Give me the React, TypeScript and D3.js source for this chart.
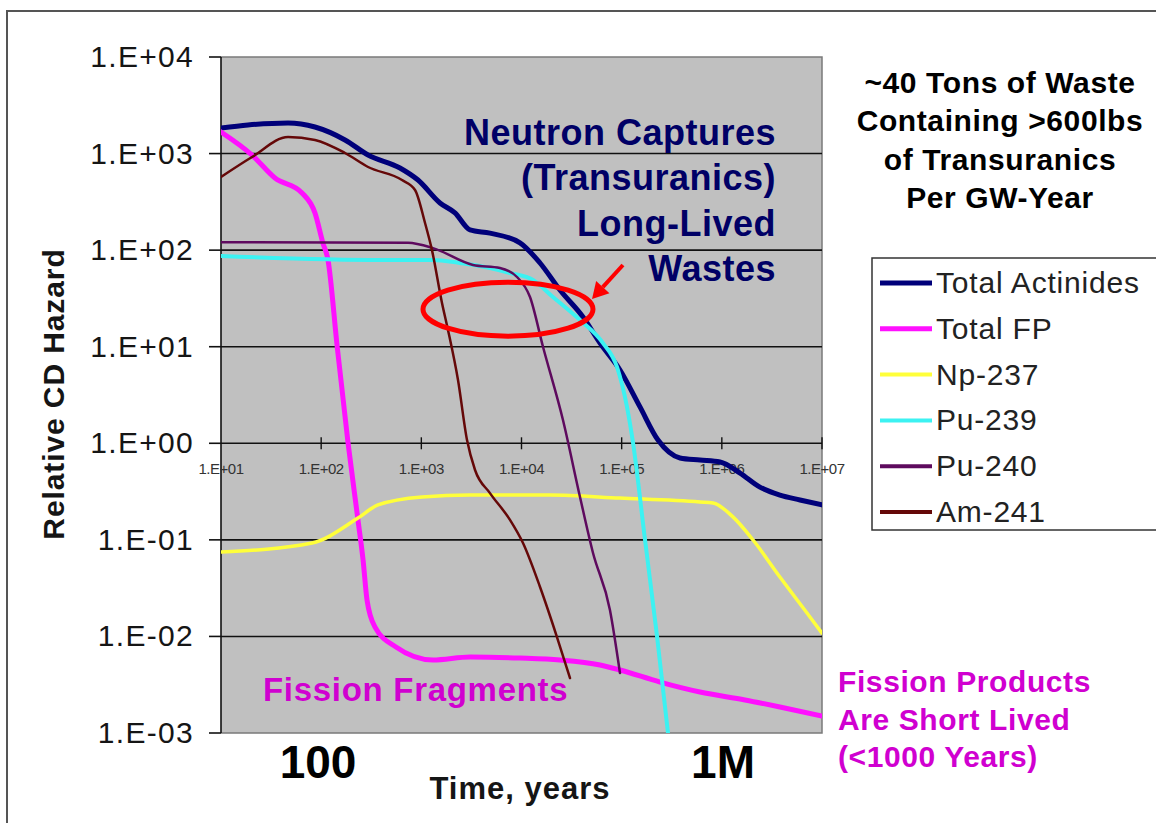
import React, { useEffect, useRef } from 'react';
import * as d3 from 'd3';

// [years, relative hazard]
const totalActinides = [
  [10, 1841], [18.6, 1977], [46.7, 2075], [86.7, 1884], [173, 1384], [294, 966], [612, 709],
  [927, 532], [1536, 308], [2168, 243], [3062, 162], [4842, 150], [9661, 119], [15310, 73.6],
  [24210, 38.6], [41110, 20.3], [60810, 10.9], [96180, 5.74], [152400, 2.38], [230600, 1.08],
  [382000, 0.705], [605000, 0.671], [959000, 0.64], [1.52e6, 0.492], [2.4e6, 0.352],
  [3.8e6, 0.291], [6.03e6, 0.259], [1e7, 0.23],
];
const totalFP = [
  [10, 1673], [20.4, 966], [34.6, 558], [64.4, 391], [86.7, 243], [104, 119], [117, 79.1],
  [144, 10.4], [185, 1.03], [233, 0.161], [262, 0.0618], [287, 0.0238], [345, 0.0125],
  [558, 0.00777], [1307, 0.0057], [3062, 0.00612], [9661, 0.00597], [24210, 0.0057],
  [60810, 0.00506], [96180, 0.00449], [241500, 0.00337], [605000, 0.00266], [1.7e6, 0.0022],
  [3.8e6, 0.00186], [1e7, 0.0015],
];
const np237 = [
  [10, 0.0748], [81, 0.0927], [233, 0.168], [369, 0.23], [1016, 0.278], [3062, 0.291],
  [19230, 0.291], [96180, 0.271], [605000, 0.247], [816000, 0.241], [1.29e6, 0.173],
  [2.05e6, 0.0996], [3.8e6, 0.0412], [7.08e6, 0.0175], [1e7, 0.0108],
];
const pu239 = [
  [10, 86.9], [405, 79.1], [1307, 79.1], [2432, 73.6], [4842, 65.3], [7674, 58], [13030, 49.1],
  [20610, 32.7], [38370, 18.9], [65160, 10.9], [89760, 6.17], [112980, 2.38], [129700, 1.02],
  [171000, 0.1], [225300, 0.0101], [290000, 0.001],
];
const pu240 = [
  [10, 121], [736, 119], [1307, 105], [3281, 70.2], [6095, 65.3], [9016, 52.7], [12160, 32.7],
  [16410, 9.93], [25940, 1.74], [38370, 0.278], [51760, 0.0731], [76380, 0.0188], [96180, 0.00418],
];
const am241 = [
  [10, 572], [20.4, 921], [46.7, 1486], [86.7, 1384], [173, 1014], [294, 726], [641, 532],
  [865, 420], [1089, 191], [1277, 100], [1608, 28.4], [1846, 14.9], [2323, 4.52], [2858, 1.08],
  [3436, 0.529], [4842, 0.305], [7674, 0.161], [10350, 0.0927], [15310, 0.0325],
  [22600, 0.00986], [30480, 0.00371],
];

const seriesNames = ['Total Actinides', 'Total FP', 'Np-237', 'Pu-239', 'Pu-240', 'Am-241'];
const seriesData = [totalActinides, totalFP, np237, pu239, pu240, am241];
const seriesColors = ['#00007a', '#ff10ff', '#ffff3a', '#3cf2f2', '#5e0a5e', '#650808'];
const seriesWidths = [5, 5, 3.5, 4, 2.5, 2.5];

const xTicks = [10, 100, 1e3, 1e4, 1e5, 1e6, 1e7];
const xTickLabels = ['1.E+01', '1.E+02', '1.E+03', '1.E+04', '1.E+05', '1.E+06', '1.E+07'];
const yTicks = [1e-3, 1e-2, 1e-1, 1, 10, 100, 1e3, 1e4];
const yTickLabels = ['1.E-03', '1.E-02', '1.E-01', '1.E+00', '1.E+01', '1.E+02', '1.E+03', '1.E+04'];

const noteCaptures = ['Neutron Captures', '(Transuranics)', 'Long-Lived', 'Wastes'];
const noteWaste = ['~40 Tons of Waste', 'Containing >600lbs', 'of Transuranics', 'Per GW-Year'];
const noteProducts = ['Fission Products', 'Are Short Lived', '(<1000 Years)'];

// ellipse centre and arrow ends, in data units
const ringCentre = [7330, 24.5];
const arrowFrom = [103000, 70.2];
const arrowTo = [50600, 31.2];

const FONT = "'Liberation Sans', Arial, sans-serif";

const App = () => {
  const svgRef = useRef(null);

  useEffect(() => {
    const svg = d3.select(svgRef.current);
    svg.selectAll('*').remove();

    const x = d3.scaleLog().domain([10, 1e7]).range([221, 822]);
    const y = d3.scaleLog().domain([1e-3, 1e4]).range([733, 57]);
    const [x0, x1] = x.range();
    const [yb, yt] = y.range();

    // slide frame
    svg.append('path')
      .attr('d', 'M7,823 V11 H1156')
      .attr('fill', 'none')
      .attr('stroke', '#555')
      .attr('stroke-width', 2);

    svg.append('rect')
      .attr('x', x0).attr('y', yt)
      .attr('width', x1 - x0).attr('height', yb - yt)
      .attr('fill', '#c0c0c0');

    svg.append('path')
      .attr('d', `M${x0},${yt} H${x1} V${yb} H${x0}`)
      .attr('fill', 'none')
      .attr('stroke', '#7a7a7a')
      .attr('stroke-width', 1.5);

    // horizontal gridlines
    svg.append('g')
      .selectAll('line')
      .data(yTicks.slice(1, -1))
      .join('line')
      .attr('x1', x0).attr('x2', x1)
      .attr('y1', d => y(d)).attr('y2', d => y(d))
      .attr('stroke', '#111')
      .attr('stroke-width', 1.6);

    // y axis
    svg.append('line')
      .attr('x1', x0).attr('x2', x0).attr('y1', yt).attr('y2', yb)
      .attr('stroke', '#111').attr('stroke-width', 1.6);
    svg.append('g')
      .selectAll('line')
      .data(yTicks)
      .join('line')
      .attr('x1', x0 - 12).attr('x2', x0)
      .attr('y1', d => y(d)).attr('y2', d => y(d))
      .attr('stroke', '#111').attr('stroke-width', 1.6);
    svg.append('g')
      .selectAll('text')
      .data(yTicks)
      .join('text')
      .attr('x', x0 - 27)
      .attr('y', d => y(d) + 10)
      .attr('text-anchor', 'end')
      .style('font-family', FONT)
      .style('font-size', '30px')
      .style('letter-spacing', '1.3px')
      .attr('fill', '#151515')
      .text((d, i) => yTickLabels[i]);

    svg.append('text')
      .attr('transform', `translate(64, 394) rotate(-90)`)
      .attr('text-anchor', 'middle')
      .style('font-family', FONT)
      .style('font-size', '30px')
      .style('font-weight', 'bold')
      .style('letter-spacing', '0.9px')
      .attr('fill', '#151515')
      .text('Relative CD Hazard');

    // x axis crosses at 1
    const yAxis = y(1);
    svg.append('g')
      .selectAll('line')
      .data(xTicks.slice(1))
      .join('line')
      .attr('x1', d => x(d)).attr('x2', d => x(d))
      .attr('y1', yAxis - 6).attr('y2', yAxis + 6)
      .attr('stroke', '#111').attr('stroke-width', 1.4);
    svg.append('g')
      .selectAll('text')
      .data(xTicks)
      .join('text')
      .attr('x', d => x(d))
      .attr('y', yAxis + 31)
      .attr('text-anchor', 'middle')
      .style('font-family', FONT)
      .style('font-size', '15px')
      .style('letter-spacing', '-0.5px')
      .attr('fill', '#333')
      .text((d, i) => xTickLabels[i]);

    // series
    svg.append('clipPath').attr('id', 'plot-clip')
      .append('rect')
      .attr('x', x0).attr('y', yt).attr('width', x1 - x0).attr('height', yb - yt);

    const line = d3.line()
      .x(d => x(d[0]))
      .y(d => y(d[1]))
      .curve(d3.curveMonotoneX);

    svg.append('g')
      .attr('clip-path', 'url(#plot-clip)')
      .selectAll('path')
      .data(seriesData)
      .join('path')
      .attr('d', d => line(d))
      .attr('fill', 'none')
      .attr('stroke', (d, i) => seriesColors[i])
      .attr('stroke-width', (d, i) => seriesWidths[i])
      .attr('stroke-linejoin', 'round')
      .attr('stroke-linecap', 'round');

    // red ring + arrow
    svg.append('ellipse')
      .attr('cx', x(ringCentre[0])).attr('cy', y(ringCentre[1]))
      .attr('rx', 85).attr('ry', 27)
      .attr('fill', 'none')
      .attr('stroke', '#ff0000')
      .attr('stroke-width', 5);

    const ax = x(arrowFrom[0]), ay = y(arrowFrom[1]);
    const bx = x(arrowTo[0]), by = y(arrowTo[1]);
    const len = Math.hypot(bx - ax, by - ay);
    const ux = (bx - ax) / len, uy = (by - ay) / len;
    const hx = bx - ux * 16, hy = by - uy * 16;
    svg.append('line')
      .attr('x1', ax).attr('y1', ay).attr('x2', hx).attr('y2', hy)
      .attr('stroke', '#ff0000').attr('stroke-width', 4);
    svg.append('polygon')
      .attr('points', [
        [bx, by],
        [hx - uy * 9, hy + ux * 9],
        [hx + uy * 9, hy - ux * 9],
      ].map(p => p.join(',')).join(' '))
      .attr('fill', '#ff0000');

    const block = (lines, opts) => {
      svg.append('g')
        .selectAll('text')
        .data(lines)
        .join('text')
        .attr('x', opts.x)
        .attr('y', (d, i) => opts.y + i * opts.step)
        .attr('text-anchor', opts.anchor)
        .style('font-family', FONT)
        .style('font-size', opts.size + 'px')
        .style('font-weight', 'bold')
        .style('letter-spacing', (opts.spacing || 0) + 'px')
        .attr('fill', opts.color)
        .text(d => d);
    };

    block(noteCaptures, { x: 776, y: 145, step: 45.3, anchor: 'end', size: 36, spacing: 0.5, color: '#000066' });
    block(noteWaste, { x: 1000, y: 93, step: 38.3, anchor: 'middle', size: 30, spacing: 0.6, color: '#000' });
    block(noteProducts, { x: 838, y: 692, step: 37.5, anchor: 'start', size: 30, spacing: 0.6, color: '#d000d0' });
    block(['Fission Fragments'], { x: 263, y: 701, step: 0, anchor: 'start', size: 33, spacing: 0.7, color: '#d000d0' });
    block(['100'], { x: 318, y: 778, step: 0, anchor: 'middle', size: 46, color: '#000' });
    block(['1M'], { x: 723, y: 778, step: 0, anchor: 'middle', size: 46, color: '#000' });
    block(['Time, years'], { x: 520, y: 799, step: 0, anchor: 'middle', size: 31, spacing: 1, color: '#151515' });

    // legend
    const legend = svg.append('g');
    legend.append('rect')
      .attr('x', 872).attr('y', 258).attr('width', 300).attr('height', 272)
      .attr('fill', '#fff')
      .attr('stroke', '#333').attr('stroke-width', 1.5);
    const rows = legend.selectAll('g')
      .data(seriesNames)
      .join('g')
      .attr('transform', (d, i) => `translate(0, ${283 + i * 45.8})`);
    rows.append('line')
      .attr('x1', 880).attr('x2', 932)
      .attr('stroke', (d, i) => seriesColors[i])
      .attr('stroke-width', (d, i) => Math.max(seriesWidths[i], 4));
    rows.append('text')
      .attr('x', 936).attr('y', 10)
      .style('font-family', FONT)
      .style('font-size', '30px')
      .style('letter-spacing', '0.8px')
      .attr('fill', '#222')
      .text(d => d);
  }, []);

  return (
    <svg
      ref={svgRef}
      width={1156}
      height={823}
      style={{ position: 'absolute', left: 0, top: 0, background: '#fff' }}
    />
  );
};

export default App;
